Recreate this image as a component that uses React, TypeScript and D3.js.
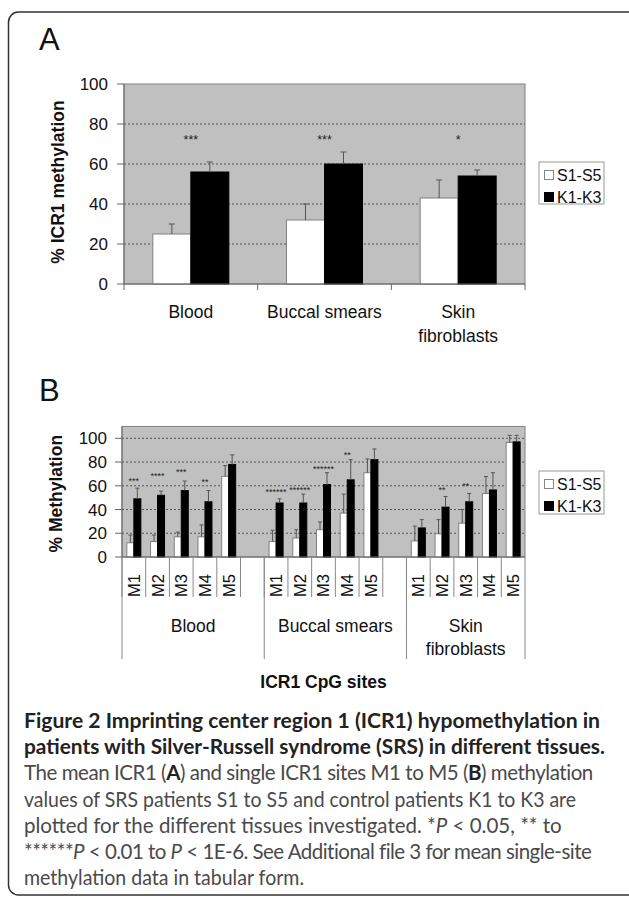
import React from "react";
import * as d3 from "d3";

// ---- data ----
const tissues = ["Blood", "Buccal smears", "Skin fibroblasts"];
const tissueLines = [["Blood"], ["Buccal smears"], ["Skin", "fibroblasts"]];
const seriesNames = ["S1-S5", "K1-K3"];

// panel A: mean ICR1 methylation
const meanSRS = [25, 32, 43];
const meanSRSErr = [5, 8, 9];
const meanCtrl = [56, 60, 54];
const meanCtrlErr = [5, 6, 3];
const starsA = ["***", "***", "*"];
const starLevelA = [73.5, 73.5, 73.5];
const ticksA = [0, 20, 40, 60, 80, 100];

// panel B: single CpG sites
const sites = ["M1", "M2", "M3", "M4", "M5"];
const siteSRS = [
  [12, 13, 17, 17, 68],
  [13, 16, 23, 37, 71],
  [13.5, 19.5, 28.5, 53.5, 96.5],
];
const siteSRSErr = [
  [6.5, 5.5, 4, 10, 9],
  [9.5, 7, 6.5, 16, 11.6],
  [12.5, 12, 11.5, 14.3, 6],
];
const siteCtrl = [
  [49, 52, 56, 46.5, 78],
  [45.5, 45.5, 61, 65, 82],
  [24.5, 42, 46.5, 56.5, 97],
];
const siteCtrlErr = [
  [9, 3.5, 8, 9.5, 8],
  [3.5, 7.5, 10, 17, 9],
  [7, 9, 7, 14.5, 5.5],
];
const starsB = [
  ["***", "****", "***", "**", ""],
  ["******", "******", "******", "**", ""],
  ["", "**", "**", "", ""],
];
const starLevelB = [
  [65.5, 69.7, 73, 64.7, 0],
  [56.3, 58, 75.6, 87.4, 0],
  [0, 58, 61.3, 0, 0],
];
const ticksB = [0, 20, 40, 60, 80, 100];

const FONT = "'Liberation Sans', Arial, sans-serif";
const CAP = "Lato, 'Open Sans', sans-serif";

function ErrBar({ x, y0, y1, cap }: { x: number; y0: number; y1: number; cap: number }) {
  return (
    <g stroke="#555" strokeWidth={1}>
      <line x1={x} x2={x} y1={y0} y2={y1} />
      <line x1={x - cap / 2} x2={x + cap / 2} y1={y1} y2={y1} />
    </g>
  );
}

function Legend({ x, y, w, h }: { x: number; y: number; w: number; h: number }) {
  return (
    <g>
      <rect x={x} y={y} width={w} height={h} fill="#fff" stroke="#999" />
      {seriesNames.map((s, i) => {
        const cy = y + 13 + i * 22;
        return (
          <g key={s}>
            <rect x={x + 5.5} y={cy - 4.5} width={9} height={9} fill={i === 0 ? "#fff" : "#000"} stroke={i === 0 ? "#888" : "#000"} />
            <text x={x + 18} y={cy} dy="0.36em" fontSize={16} fontFamily={FONT} fill="#111">{s}</text>
          </g>
        );
      })}
    </g>
  );
}

function PanelA() {
  const left = 124, right = 525, top = 84, bottom = 284;
  const x = d3.scaleBand().domain(tissues).range([left, right]);
  const y = d3.scaleLinear().domain([0, 100]).range([bottom, top]);
  const bw = 38;
  return (
    <g>
      <text x={39} y={50} fontSize={31} fontFamily={FONT} fill="#111">A</text>
      <rect x={left} y={top} width={right - left} height={bottom - top} fill="#c0c0c0" stroke="#808080" />
      {ticksA.filter(t => t > 0 && t < 100).map(t => (
        <line key={t} x1={left} x2={right} y1={y(t)} y2={y(t)} stroke="#555" strokeDasharray="2,2" />
      ))}
      {tissues.map((t, i) => {
        const c = (x(t) as number) + x.bandwidth() / 2;
        return (
          <g key={t}>
            <rect x={c - bw} y={y(meanSRS[i])} width={bw} height={bottom - y(meanSRS[i])} fill="#fff" stroke="#808080" />
            <rect x={c} y={y(meanCtrl[i])} width={bw} height={bottom - y(meanCtrl[i])} fill="#000" stroke="#000" />
            <ErrBar x={c - bw / 2} y0={y(meanSRS[i])} y1={y(meanSRS[i] + meanSRSErr[i])} cap={6} />
            <ErrBar x={c + bw / 2} y0={y(meanCtrl[i])} y1={y(meanCtrl[i] + meanCtrlErr[i])} cap={6} />
            <text x={c} y={y(starLevelA[i]) + 7} textAnchor="middle" fontSize={12.5} fontFamily={FONT} fill="#222">{starsA[i]}</text>
            {tissueLines[i].map((l, k) => (
              <text key={l} x={c} y={318 + k * 24} textAnchor="middle" fontSize={17.5} fontFamily={FONT} fill="#111">{l}</text>
            ))}
          </g>
        );
      })}
      {/* axes */}
      <line x1={left} x2={left} y1={top} y2={bottom} stroke="#666" />
      <line x1={left} x2={right} y1={bottom} y2={bottom} stroke="#666" />
      {[...tissues.map(t => x(t) as number), right].map((v, i) => (
        <line key={i} x1={v} x2={v} y1={bottom} y2={bottom + 6} stroke="#666" />
      ))}
      {ticksA.map(t => (
        <g key={t}>
          <line x1={left - 7} x2={left} y1={y(t)} y2={y(t)} stroke="#666" />
          <text x={108} y={y(t)} dy="0.36em" textAnchor="end" fontSize={17} fontFamily={FONT} fill="#111">{t}</text>
        </g>
      ))}
      <text transform={`translate(64,${(top + bottom) / 2 - 2}) rotate(-90)`} textAnchor="middle" fontSize={17.5} fontWeight="bold" fontFamily={FONT} fill="#111">% ICR1 methylation</text>
      <Legend x={539} y={162} w={65} h={42} />
    </g>
  );
}

function PanelB() {
  const left = 122, right = 525, bottom = 557;
  const slots = tissues.flatMap((t, g) => [
    ...sites.map(s => `${g}-${s}`),
    ...(g < tissues.length - 1 ? [`${g}-gap`] : []),
  ]);
  const x = d3.scaleBand().domain(slots).range([left, right]);
  const y = d3.scaleLinear().domain([0, 110]).range([bottom, bottom - 110 * 1.187]);
  const top = y(110);
  const bw = 7;
  const groupEdges = tissues.map((_, g) => x(`${g}-M1`) as number).concat(right);
  return (
    <g>
      <text x={39} y={401} fontSize={31} fontFamily={FONT} fill="#111">B</text>
      <rect x={left} y={top} width={right - left} height={bottom - top} fill="#c0c0c0" stroke="#808080" />
      {ticksB.filter(t => t > 0).map(t => (
        <line key={t} x1={left} x2={right} y1={y(t)} y2={y(t)} stroke="#555" strokeDasharray="2,2" />
      ))}
      {tissues.map((t, g) =>
        sites.map((s, k) => {
          const c = (x(`${g}-${s}`) as number) + x.bandwidth() / 2;
          const sv = siteSRS[g][k], kv = siteCtrl[g][k];
          return (
            <g key={`${g}-${s}`}>
              <rect x={c - bw} y={y(sv)} width={bw} height={bottom - y(sv)} fill="#fff" stroke="#808080" />
              <rect x={c} y={y(kv)} width={bw} height={bottom - y(kv)} fill="#000" stroke="#000" />
              <ErrBar x={c - bw / 2} y0={y(sv)} y1={y(sv + siteSRSErr[g][k])} cap={4} />
              <ErrBar x={c + bw / 2} y0={y(kv)} y1={y(kv + siteCtrlErr[g][k])} cap={4} />
              {starsB[g][k] && (
                <text x={c} y={y(starLevelB[g][k]) + 5} textAnchor="middle" fontSize={9} fontFamily={FONT} fill="#222">{starsB[g][k]}</text>
              )}
              <text transform={`translate(${c},597) rotate(-90)`} dy="0.36em" fontSize={16.5} fontFamily={FONT} fill="#111">{s}</text>
            </g>
          );
        })
      )}
      {/* axes */}
      <line x1={left} x2={left} y1={top} y2={bottom} stroke="#666" />
      <line x1={left} x2={right} y1={bottom} y2={bottom} stroke="#666" />
      {slots.map(sl => (
        <line key={sl} x1={x(sl) as number} x2={x(sl) as number} y1={bottom} y2={597} stroke="#888" />
      ))}
      {groupEdges.map((v, i) => (
        <line key={i} x1={v} x2={v} y1={bottom} y2={659} stroke="#888" />
      ))}
      {tissues.map((t, g) => {
        const c = (groupEdges[g] + groupEdges[g + 1]) / 2;
        return tissueLines[g].map((l, k) => (
          <text key={l} x={c} y={632 + k * 23} textAnchor="middle" fontSize={17.5} fontFamily={FONT} fill="#111">{l}</text>
        ));
      })}
      {ticksB.map(t => (
        <g key={t}>
          <line x1={left - 7} x2={left} y1={y(t)} y2={y(t)} stroke="#666" />
          <text x={107} y={y(t)} dy="0.36em" textAnchor="end" fontSize={17} fontFamily={FONT} fill="#111">{t}</text>
        </g>
      ))}
      <text transform={`translate(62,${(top + bottom) / 2 + 2}) rotate(-90)`} textAnchor="middle" fontSize={17.5} fontWeight="bold" fontFamily={FONT} fill="#111">% Methylation</text>
      <text x={(left + right) / 2} y={688} textAnchor="middle" fontSize={17.5} fontWeight="bold" fontFamily={FONT} fill="#111">ICR1 CpG sites</text>
      <Legend x={539} y={471} w={65} h={43} />
    </g>
  );
}

function Caption() {
  const x0 = 24;
  const base = 728, step = 26.2;
  const reg = "#4a4a4a";
  return (
    <g fontFamily={CAP} fontSize={20.5}>
      <text x={x0} y={base} textLength={576} lengthAdjust="spacingAndGlyphs" fontWeight="bold" fill="#222">
        Figure 2 Imprinting center region 1 (ICR1) hypomethylation in
      </text>
      <text x={x0} y={base + step} textLength={581} lengthAdjust="spacingAndGlyphs" fontWeight="bold" fill="#222">
        patients with Silver-Russell syndrome (SRS) in different tissues.
      </text>
      <text x={x0} y={base + step * 2} letterSpacing={-0.45} fill={reg}>
        The mean ICR1 (<tspan fontWeight="bold" fill="#222">A</tspan>) and single ICR1 sites M1 to M5 (<tspan fontWeight="bold" fill="#222">B</tspan>) methylation
      </text>
      <text x={x0} y={base + step * 3} textLength={552} lengthAdjust="spacingAndGlyphs" fill={reg}>
        values of SRS patients S1 to S5 and control patients K1 to K3 are
      </text>
      <text x={x0} y={base + step * 4} fill={reg}>
        plotted for the different tissues investigated. *<tspan fontStyle="italic">P</tspan> &lt; 0.05, ** to
      </text>
      <text x={x0} y={base + step * 5} letterSpacing={-0.53} fill={reg}>
        ******<tspan fontStyle="italic">P</tspan> &lt; 0.01 to <tspan fontStyle="italic">P</tspan> &lt; 1E-6. See Additional file 3 for mean single-site
      </text>
      <text x={x0} y={base + step * 6} textLength={280} lengthAdjust="spacingAndGlyphs" fill={reg}>
        methylation data in tabular form.
      </text>
    </g>
  );
}

export default function App() {
  return (
    <svg width={629} height={898} style={{ position: "absolute", left: 0, top: 0, background: "#fff" }}>
      <rect x={8.5} y={12} width={630} height={883} rx={10} fill="#fff" stroke="#333" strokeWidth={1.5} />
      <PanelA />
      <PanelB />
      <Caption />
    </svg>
  );
}
